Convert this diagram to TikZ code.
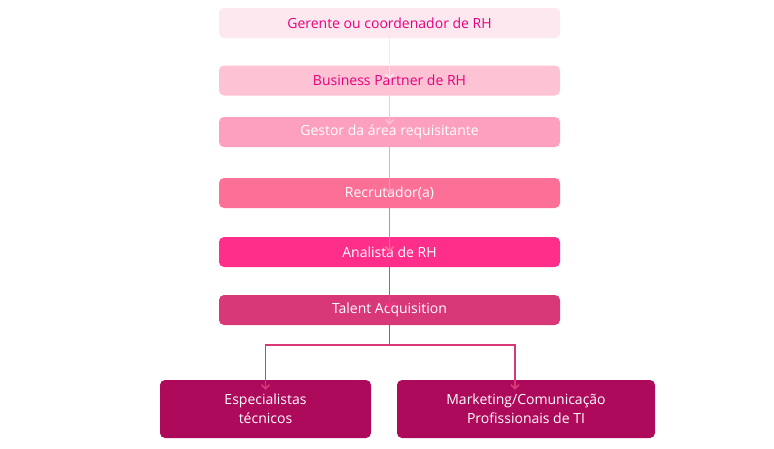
\documentclass[tikz,border=0pt]{standalone}
\usepackage{fontspec}
\setmainfont{Open Sans}
\usetikzlibrary{arrows.meta}
\definecolor{c1}{HTML}{FDE8EF}
\definecolor{c2}{HTML}{FDC2D3}
\definecolor{c3}{HTML}{FD9FBE}
\definecolor{c4}{HTML}{FC7097}
\definecolor{c5}{HTML}{FF2E8B}
\definecolor{c6}{HTML}{D83878}
\definecolor{c7}{HTML}{AE0A5B}
\definecolor{tx}{HTML}{E5007E}
\tikzset{x=1pt,y=-1pt,
 box/.style={rounded corners=5pt,minimum width=341pt,minimum height=30pt,inner sep=0pt,font=\fontsize{14}{16}\selectfont,text=white},
 bbox/.style={rounded corners=5pt,minimum height=58pt,inner sep=0pt,align=center,font=\fontsize{14}{19}\selectfont,text=white,fill=c7},
 arr/.style={line width=1.6pt,-{Straight Barb[length=4pt,width=8pt]}}}
\begin{document}
\begin{tikzpicture}
\useasboundingbox (0,0) rectangle (774,448);
\node[box,fill=c1,text=tx] (a) at (389.5,23) {Gerente ou coordenador de RH};
\node[box,fill=c2,text=tx] (b) at (389.5,80.5) {Business Partner de RH};
\node[box,fill=c3] (c) at (389.5,132) {Gestor da área requisitante};
\node[box,fill=c4] (d) at (389.5,193) {Recrutador(a)};
\node[box,fill=c5] (e) at (389.5,252) {Analista de RH};
\node[box,fill=c6] (f) at (389.5,310) {Talent Acquisition};
\node[bbox,minimum width=211pt] (g) at (265.5,409) {Especialistas\\técnicos};
\node[bbox,minimum width=258pt] (h) at (526,409) {Marketing/Comunicação\\Profissionais de TI};
\coordinate (j) at (389.5,345);
\draw[arr,draw=c1] ([yshift=2pt]a.south) -- ([yshift=-14pt]b.north);
\draw[arr,draw=c2] ([yshift=2pt]b.south) -- ([yshift=-8pt]c.north);
\draw[arr,draw=c3] ([yshift=2pt]c.south) -- ([yshift=-16pt]d.north);
\draw[arr,draw=c4] ([yshift=2pt]d.south) -- ([yshift=-15pt]e.north);
\draw[arr,draw=c5] ([yshift=1pt]e.south) -- ([yshift=-13pt]f.north);
\draw[line width=1.6pt,draw=c6] (f.south) -- (j);
\draw[arr,draw=c6] (j) -| ([yshift=-10pt]g.north);
\draw[arr,draw=c6] (j) -| ([xshift=-11pt,yshift=-10pt]h.north);
\end{tikzpicture}
\end{document}
